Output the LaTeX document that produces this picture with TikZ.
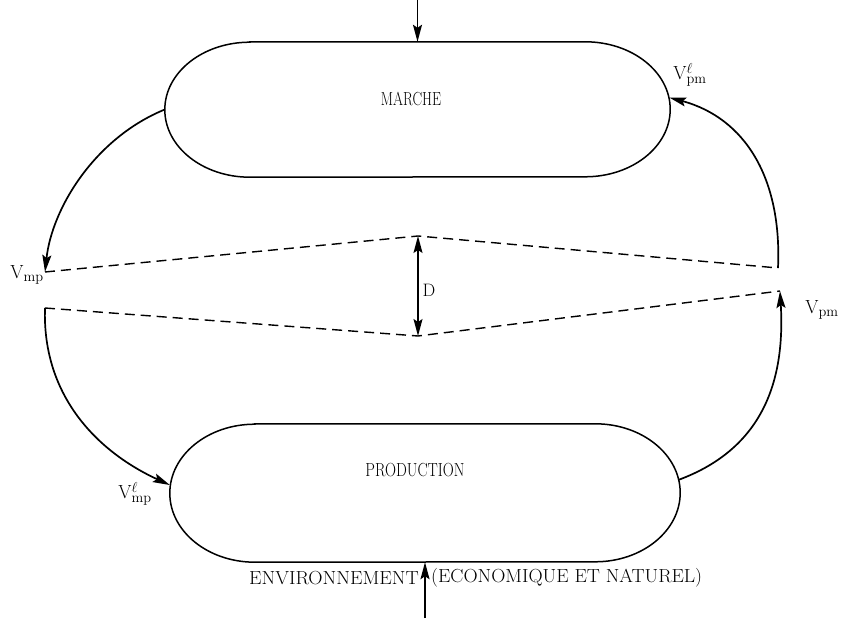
\documentclass[tikz,border=0pt]{standalone}
\usepackage{graphicx}
\usetikzlibrary{arrows.meta,calc}
\newcommand{\stadiumborder}[1]{%
  \draw[border] ($(#1.north west)+(85,0)$) -- ($(#1.north east)+(-85,0)$)
    arc[start angle=90,end angle=-90,x radius=85,y radius=\stadhh]
    -- ($(#1.south west)+(85,0)$)
    arc[start angle=270,end angle=90,x radius=85,y radius=\stadhh] -- cycle;}
\begin{document}
\begin{tikzpicture}[x=1pt,y=1pt,
  box/.style={rectangle,draw=none,minimum width=505pt,minimum height=135pt,inner sep=0pt},
  border/.style={line width=1.5pt},
  flow/.style={line width=1.7pt,-{Stealth[length=17pt,width=9pt,inset=3pt]}},
  gap/.style={line width=1.4pt,dash pattern=on 10pt off 6pt},
  lbl/.style={font=\fontsize{18}{20}\selectfont,inner sep=0pt},
  vlbl/.style={font=\fontsize{19}{21}\selectfont,inner sep=0pt}]
\useasboundingbox (0,0) rectangle (842,618);
\node[box] (marche) at (417.5,508.5) {};
\def\stadhh{67.5}
\stadiumborder{marche}
\node[box,minimum width=510pt,minimum height=138pt] (prod) at (425,125) {};
\def\stadhh{69}
\stadiumborder{prod}
\node[lbl] (tm) at (411,519) {\scalebox{0.8}[1.05]{MARCHE}};
\node[lbl] (tp) at (415,148) {\scalebox{0.85}[1.05]{PRODUCTION}};
% points on the borders
\coordinate (mr) at ($(marche.east)+(-1,12)$);
\coordinate (pl) at ($(prod.west)+(0,8)$);
\coordinate (pr) at ($(prod.east)+(-2,13)$);
% dashed gap lines
\coordinate (ul) at (45,346);
\coordinate (um) at (418,382);
\coordinate (ur) at (778,350);
\coordinate (ll) at (45,310);
\coordinate (lm) at (418,282);
\coordinate (lr) at (780,327);
\draw[gap] (ul) -- (um) -- (ur);
\draw[gap] (ll) -- (lm) -- (lr);
% flows
\draw[flow] (marche.west) .. controls (95,480) and (52,410) .. (ul);
\draw[flow] (ll) .. controls (42,220) and (100,165) .. (pl);
\draw[flow] (ur) .. controls (782,440) and (745,500) .. (mr);
\draw[flow] (pr) .. controls (765,170) and (785,240) .. (lr);
% D
\draw[line width=1.5pt,{Stealth[length=17pt,width=9pt,inset=3pt]}-{Stealth[length=17pt,width=9pt,inset=3pt]}] (um) -- (lm);
\node[lbl] (d) at (429,328) {D};
% top and bottom arrows
\coordinate (topin) at (marche.north |- 0,618);
\draw[flow] (topin) -- (marche.north);
\coordinate (botin) at (prod.south |- 0,0);
\draw[flow] (botin) -- (prod.south);
\node[lbl,anchor=east] (env) at (419,40) {\scalebox{1.1}[1.05]{ENVIRONNEMENT}};
\node[lbl,anchor=west] (eco) at (431,40) {\scalebox{1.09}[1.05]{(ECONOMIQUE ET NATUREL)}};
% labels
\node[vlbl] (vmp) at (27,343) {V$_{\mathrm{mp}}$};
\node[vlbl] (vpm) at (822,308) {V$_{\mathrm{pm}}$};
\node[vlbl] (vlmp) at (135,124) {V$^{\ell}_{\mathrm{mp}}$};
\node[vlbl] (vlpm) at (690,543) {V$^{\ell}_{\mathrm{pm}}$};
\end{tikzpicture}
\end{document}
